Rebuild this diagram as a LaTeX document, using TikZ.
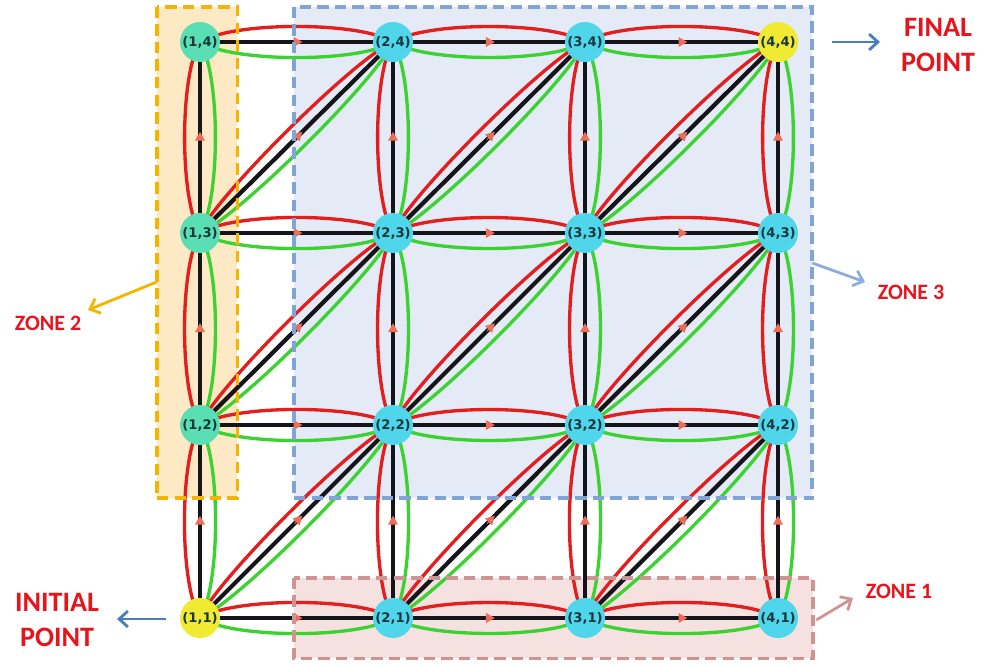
\documentclass[tikz,border=0pt]{standalone}
\usepackage{fontspec}
\setmainfont{Carlito}
\newfontfamily\ptfont{DejaVu Sans}
\usetikzlibrary{arrows.meta,calc}
\definecolor{arcred}{RGB}{226,30,30}
\definecolor{arcgreen}{RGB}{60,210,50}
\definecolor{linkblack}{RGB}{20,20,26}
\definecolor{tipsalmon}{RGB}{236,110,90}
\definecolor{ptmint}{RGB}{90,222,180}
\definecolor{ptcyan}{RGB}{80,214,234}
\definecolor{ptyellow}{RGB}{240,234,50}
\definecolor{ptink}{RGB}{25,55,60}
\definecolor{labred}{RGB}{230,20,28}
\definecolor{zoneorange}{RGB}{245,180,0}
\definecolor{zoneorangebg}{RGB}{253,233,196}
\definecolor{zoneblue}{RGB}{128,164,214}
\definecolor{zonebluebg}{RGB}{228,235,246}
\definecolor{zonepink}{RGB}{206,148,148}
\definecolor{zonepinkbg}{RGB}{244,225,224}
\definecolor{steelblue}{RGB}{74,126,187}
\begin{document}
\begin{tikzpicture}[x=0.02cm,y=-0.02cm,
  pt/.style={circle,fill=ptcyan,minimum size=0.8cm,inner sep=0pt,text=ptink,
             font=\ptfont\bfseries\fontsize{7.5}{8}\selectfont},
  zonebox/.style={rectangle,inner sep=0pt,draw=none},
  zoneline/.style={line width=2.1pt,dash pattern=on 6.5pt off 3.5pt},
  arcR/.style={arcred,line width=1.9pt},
  arcG/.style={arcgreen,line width=1.9pt},
  link/.style={linkblack,line width=2.4pt},
  tip/.style={tipsalmon,line width=0.6pt,-{Triangle[length=5pt,width=5.5pt]}},
  callout/.style={line width=1.6pt,-{Straight Barb[length=5pt,width=9pt]}},
  lab/.style={labred,align=center,font=\bfseries\fontsize{16}{19.5}\selectfont},
  zlab/.style={labred,font=\bfseries\fontsize{12.5}{14}\selectfont}
]
\useasboundingbox (0,0) rectangle (986,666);
% zones (fill only, borders come later)
\node[zonebox,fill=zoneorangebg,minimum width=1.6cm,minimum height=9.82cm] (z2) at (197,252.5) {};
\node[zonebox,fill=zonebluebg,minimum width=10.36cm,minimum height=9.82cm] (z3) at (553,252.5) {};
\node[zonebox,fill=zonepinkbg,minimum width=10.38cm,minimum height=1.6cm] (z1) at (553.5,618) {};
% grid points
\coordinate (p11) at (200,618);
\coordinate (p21) at (393,618);
\coordinate (p31) at (585,618);
\coordinate (p41) at (778,618);
\coordinate (p12) at (200,425);
\coordinate (p22) at (393,425);
\coordinate (p32) at (585,425);
\coordinate (p42) at (778,425);
\coordinate (p13) at (200,233);
\coordinate (p23) at (393,233);
\coordinate (p33) at (585,233);
\coordinate (p43) at (778,233);
\coordinate (p14) at (200,42);
\coordinate (p24) at (393,42);
\coordinate (p34) at (585,42);
\coordinate (p44) at (778,42);
% straight links
\foreach \a/\b in {11/21,21/31,31/41,12/22,22/32,32/42,13/23,23/33,33/43,14/24,24/34,34/44,
                   11/12,12/13,13/14,21/22,22/23,23/24,31/32,32/33,33/34,41/42,42/43,43/44}{
  \draw[arcR] (p\a) to[bend left=32,looseness=.52] (p\b);
  \draw[arcG] (p\a) to[bend right=32,looseness=.52] (p\b);
  \draw[link] (p\a) -- (p\b);
  \draw[tip] ($(p\a)!.49!(p\b)$) -- ($(p\a)!.53!(p\b)$);
}
% diagonal links
\foreach \a/\b in {11/22,21/32,31/42,12/23,22/33,32/43,13/24,23/34,33/44}{
  \draw[arcR] (p\a) to[bend left=22,looseness=.38] (p\b);
  \draw[arcG] (p\a) to[bend right=22,looseness=.38] (p\b);
  \draw[link] (p\a) -- (p\b);
  \draw[tip] ($(p\a)!.49!(p\b)$) -- ($(p\a)!.53!(p\b)$);
}
% zone borders
\draw[zoneline,zoneorange] (z2.north west) rectangle (z2.south east);
\draw[zoneline,zoneblue] (z3.north west) rectangle (z3.south east);
\draw[zoneline,zonepink] (z1.north west) rectangle (z1.south east);
% nodes
\node[pt,fill=ptyellow] (n11) at (p11) {(1,1)};
\node[pt] (n21) at (p21) {(2,1)};
\node[pt] (n31) at (p31) {(3,1)};
\node[pt] (n41) at (p41) {(4,1)};
\node[pt,fill=ptmint] (n12) at (p12) {(1,2)};
\node[pt] (n22) at (p22) {(2,2)};
\node[pt] (n32) at (p32) {(3,2)};
\node[pt] (n42) at (p42) {(4,2)};
\node[pt,fill=ptmint] (n13) at (p13) {(1,3)};
\node[pt] (n23) at (p23) {(2,3)};
\node[pt] (n33) at (p33) {(3,3)};
\node[pt] (n43) at (p43) {(4,3)};
\node[pt,fill=ptmint] (n14) at (p14) {(1,4)};
\node[pt] (n24) at (p24) {(2,4)};
\node[pt] (n34) at (p34) {(3,4)};
\node[pt,fill=ptyellow] (n44) at (p44) {(4,4)};
% labels
\node[lab] (fintxt) at (938,45) {FINAL\\POINT};
\node[lab] (inittxt) at (57,620) {INITIAL\\POINT};
\node[zlab] (z2txt) at (48,323) {ZONE 2};
\node[zlab] (z3txt) at (911,292) {ZONE 3};
\node[zlab] (z1txt) at (899,591) {ZONE 1};
\coordinate (finend) at (880,42);
\coordinate (initend) at (117,619);
\coordinate (z2end) at (88,310);
\coordinate (z3end) at (865,282);
\coordinate (z1end) at (853,598);
\draw[callout,steelblue] ($(n44.east)+(34,0)$) -- (finend);
\draw[callout,steelblue] ($(n11.west)+(-14,1)$) -- (initend);
\draw[callout,zoneorange] ($(z2.west)+(0,29.5)$) -- (z2end);
\draw[callout,zoneblue!90] ($(z3.east)+(0,10.5)$) -- (z3end);
\draw[callout,zonepink] ($(z1.east)+(3,2)$) -- (z1end);
\end{tikzpicture}
\end{document}
